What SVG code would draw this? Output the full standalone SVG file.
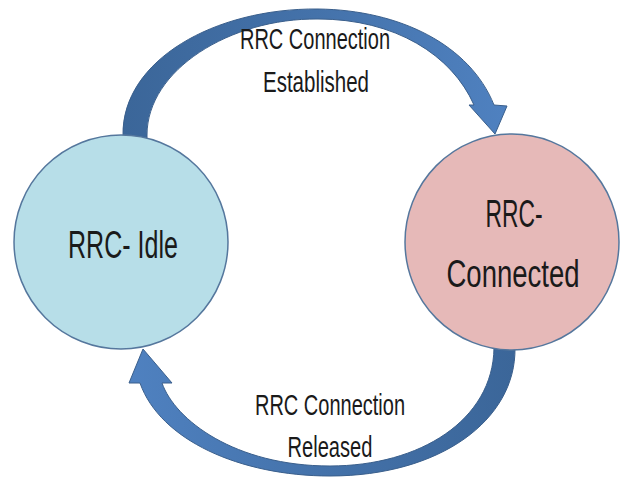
<svg xmlns="http://www.w3.org/2000/svg" width="621" height="477" viewBox="0 0 621 477">
  <defs>
    <linearGradient id="gTop" x1="0" y1="0" x2="1" y2="0">
      <stop offset="0" stop-color="#3b6699"/>
      <stop offset="0.5" stop-color="#4472aa"/>
      <stop offset="1" stop-color="#4f81c0"/>
    </linearGradient>
    <linearGradient id="gBot" x1="1" y1="0" x2="0" y2="0">
      <stop offset="0" stop-color="#3b6699"/>
      <stop offset="0.5" stop-color="#4472aa"/>
      <stop offset="1" stop-color="#4f81c0"/>
    </linearGradient>
  </defs>
  <style>
    .arrow { stroke: #3a5f8c; stroke-width: 1; stroke-linejoin: miter; }
    .node { stroke: #55779d; stroke-width: 1.5; }
    .label { font-family: "Liberation Sans", Arial, sans-serif; fill: #1a1a1a; text-anchor: middle; }
    .big { font-size: 38px; }
    .small { font-size: 29px; }
  </style>
  <g id="connectors">
    <path class="arrow" fill="url(#gTop)" d="M123,142 L123,135 C122,60 215,8 318,9 C400,10 470,45 494,105 L507,106 L495,134 L469,105 L474,105 C452,55 395,19 318,19 C230,18 147,70 147,135 L147,142 Z"/>
    <path class="arrow" fill="url(#gBot)" d="M515,340 L515,348 C516,420 440,476 330,476 C240,476 160,440 140,383 L129,383 L143,349 L172,383 L162,383 C175,420 235,466 330,466 C420,466 493,420 494,348 L494,340 Z"/>
  </g>
  <g id="node-idle">
    <ellipse class="node" cx="121" cy="242" rx="107" ry="107" fill="#b7dee8"/>
    <text class="label big" x="123" y="258" textLength="110" lengthAdjust="spacingAndGlyphs">RRC- Idle</text>
  </g>
  <g id="node-connected">
    <ellipse class="node" cx="512" cy="242" rx="107" ry="108" fill="#e6b9b8"/>
    <text class="label big" x="514" y="227" textLength="57" lengthAdjust="spacingAndGlyphs">RRC-</text>
    <text class="label big" x="513" y="287" textLength="133" lengthAdjust="spacingAndGlyphs">Connected</text>
  </g>
  <g id="label-established">
    <text class="label small" x="315" y="49" textLength="150" lengthAdjust="spacingAndGlyphs">RRC Connection</text>
    <text class="label small" x="316" y="92" textLength="106" lengthAdjust="spacingAndGlyphs">Established</text>
  </g>
  <g id="label-released">
    <text class="label small" x="330" y="415" textLength="150" lengthAdjust="spacingAndGlyphs">RRC Connection</text>
    <text class="label small" x="330" y="457" textLength="85" lengthAdjust="spacingAndGlyphs">Released</text>
  </g>
</svg>
